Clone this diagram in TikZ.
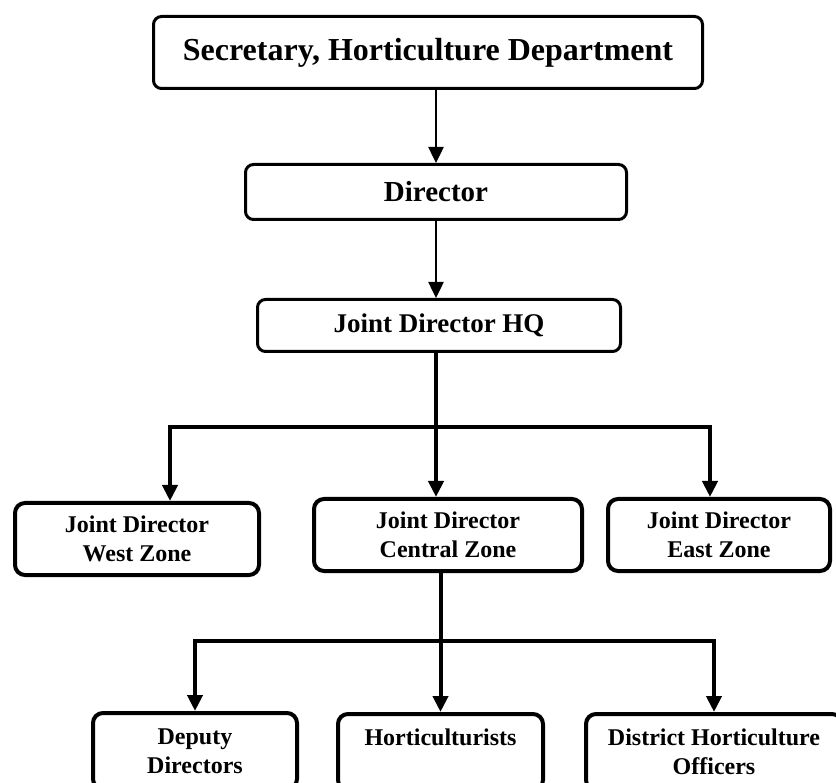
\documentclass[tikz,border=0pt]{standalone}
\usepackage{fontspec}
\setmainfont{Liberation Serif}
\usepackage{tikz}
\usetikzlibrary{arrows.meta,positioning}

\begin{document}
\begin{tikzpicture}[
  x=1pt, y=-1pt,
  headbox/.style={draw, line width=3pt, rounded corners=8pt, inner sep=0pt, align=center},
  unitbox/.style={draw, line width=4pt, rounded corners=10pt, inner sep=0pt, align=center,
    minimum height=72pt, font=\fontsize{24}{29}\selectfont\bfseries},
  arrow/.style={-{Triangle[length=16pt,width=15pt]}, line width=2.5pt},
  branch/.style={-{Triangle[length=16pt,width=15pt]}, line width=4pt}
]
\clip (0,0) rectangle (836,783);

% top of the chain
\node[headbox, minimum width=549pt, minimum height=72pt, font=\fontsize{32}{36}\selectfont\bfseries]
  (secy) at (428,52.5) {Secretary, Horticulture Department};
\node[headbox, minimum width=381pt, minimum height=55pt, font=\fontsize{29}{33}\selectfont\bfseries]
  (dir) at (436,192) {Director};
\node[headbox, minimum width=363pt, minimum height=52pt, font=\fontsize{27}{31}\selectfont\bfseries]
  (jdhq) at (439,325.5) {Joint Director HQ};

\draw[arrow] (secy.south -| dir.north) -- (dir.north);
\draw[arrow] (dir.south) -- (dir.south |- jdhq.north);

% zones
\node[unitbox, minimum width=244pt] (west) at (137,539) {Joint Director\\West Zone};
\node[unitbox, minimum width=268pt] (central) at (448,535) {Joint Director\\Central Zone};
\node[unitbox, minimum width=222pt] (east) at (719,535) {Joint Director\\East Zone};

\coordinate (busW) at (170,427);
\coordinate (busE) at (710,427);
\draw[branch] (busW -| dir.south) -| (busW |- west.north);
\draw[branch] (busW -| dir.south) -| (busE |- east.north);
\draw[branch] (dir.south |- jdhq.south) -- (dir.south |- central.north);

% under the central zone
\node[unitbox, minimum width=204pt, minimum height=76pt] (deputy) at (195,751) {Deputy\\Directors};
\node[unitbox, minimum width=205pt, minimum height=76pt] (hort) at (440.5,752) {Horticulturists\\~};
\node[unitbox, minimum width=256pt, minimum height=76pt] (dho) at (714,752) {District Horticulture\\Officers};

\coordinate (busS) at (440,641);
\draw[branch] (hort.north |- central.south) -- (hort.north);
\draw[branch] (busS) -| (deputy.north);
\draw[branch] (busS) -| (dho.north);
\end{tikzpicture}
\end{document}
